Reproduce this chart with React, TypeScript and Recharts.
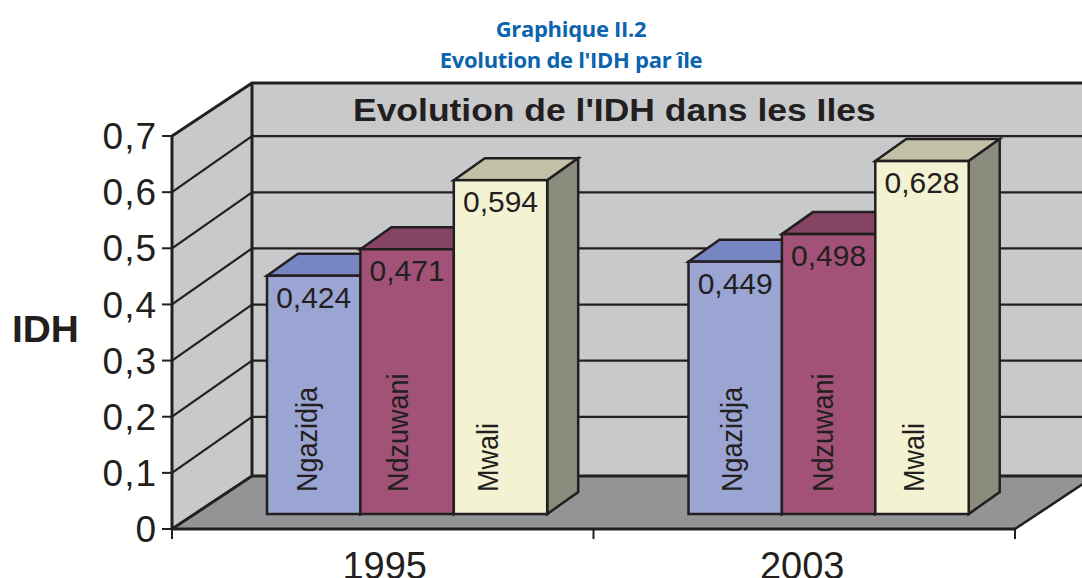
import { BarChart, Bar, XAxis, YAxis, ReferenceArea, ReferenceLine, LabelList } from "recharts";

const years = ["1995", "2003"];
const ngazidja = [0.424, 0.449];
const ndzuwani = [0.471, 0.498];
const mwali = [0.594, 0.628];
const yTicks = [0, 0.1, 0.2, 0.3, 0.4, 0.5, 0.6, 0.7];

const chartData = years.map((year, i) => ({
  year,
  Ngazidja: ngazidja[i],
  Ndzuwani: ndzuwani[i],
  Mwali: mwali[i],
}));

const INK = "#231f20";
const ARIAL = "'Liberation Sans', Arial, sans-serif";
const WALL = "#c8c9cb";
const FLOOR = "#939496";

// fake 3d: how far the back wall sits from the axes, and how far bars stand in
const WALL_DX = 80;
const WALL_DY = 53;
const BAR_SHIFT = 24;
const BAR_DX = 31;
const BAR_DY = 22;

function Walls({ x, y, width, height }: any) {
  const bottom = y + height;
  const right = x + width;
  const edges = years.map((_, i) => x + (width * i) / years.length).concat(right);
  return (
    <g>
      <polygon points={`${x},${y} ${x + WALL_DX},${y - WALL_DY} ${x + WALL_DX},${bottom - WALL_DY} ${x},${bottom}`} fill={WALL} stroke="none" />
      <rect x={x + WALL_DX} y={y - WALL_DY} width={width} height={height} fill={WALL} />
      <polygon
        points={`${x},${bottom} ${x + WALL_DX},${bottom - WALL_DY} ${right + WALL_DX},${bottom - WALL_DY} ${right},${bottom}`}
        fill={FLOOR}
      />
      <polyline
        points={`${x},${bottom} ${x},${y} ${x + WALL_DX},${y - WALL_DY} ${right + WALL_DX},${y - WALL_DY}`}
        fill="none"
        stroke={INK}
        strokeWidth={3}
      />
      <polyline
        points={`${x},${bottom} ${x + WALL_DX},${bottom - WALL_DY} ${x + WALL_DX},${y - WALL_DY}`}
        fill="none"
        stroke={INK}
        strokeWidth={3}
      />
      <line x1={x + WALL_DX} y1={bottom - WALL_DY} x2={right + WALL_DX} y2={bottom - WALL_DY} stroke={INK} strokeWidth={3} />
      <line x1={right} y1={bottom} x2={right + WALL_DX} y2={bottom - WALL_DY} stroke={INK} strokeWidth={2.5} />
      {edges.map((ex) => (
        <line key={ex} x1={ex} y1={bottom} x2={ex} y2={bottom + 10} stroke={INK} strokeWidth={2} />
      ))}
    </g>
  );
}

function WallLine({ x1, y1, x2 }: any) {
  return (
    <g stroke={INK} strokeWidth={2.2} fill="none">
      <line x1={x1} y1={y1} x2={x1 + WALL_DX} y2={y1 - 56} />
      <line x1={x1 + WALL_DX} y1={y1 - 56} x2={x2 + WALL_DX} y2={y1 - 56} />
    </g>
  );
}

function Box3D({ x, y, width, height, front, top, side }: any) {
  const left = x + BAR_SHIFT;
  const right = left + width;
  const bottom = y + height;
  return (
    <g stroke={INK} strokeWidth={2.5} strokeLinejoin="miter">
      <polygon points={`${left},${y} ${left + BAR_DX},${y - BAR_DY} ${right + BAR_DX},${y - BAR_DY} ${right},${y}`} fill={top} />
      <polygon points={`${right},${y} ${right + BAR_DX},${y - BAR_DY} ${right + BAR_DX},${bottom - BAR_DY} ${right},${bottom}`} fill={side} />
      <rect x={left} y={y} width={width} height={height} fill={front} />
    </g>
  );
}

function ValueLabel({ x, y, width, value }: any) {
  return (
    <text x={x + BAR_SHIFT + width / 2} y={y + 32} textAnchor="middle" fontFamily={ARIAL} fontSize={30} fill={INK}>
      {String(value).replace(".", ",")}
    </text>
  );
}

function seriesLabel(name: string, nudge: number) {
  return function SeriesLabel({ x, y, width, height, index }: any) {
    const px = x + BAR_SHIFT + width / 2 + nudge + (index === 0 ? -3 : 1);
    const py = y + height - 22;
    return (
      <text transform={`translate(${px},${py}) rotate(-90) scale(1,1.1)`} fontFamily={ARIAL} fontSize={27} fill={INK}>
        {name}
      </text>
    );
  };
}

function YearTick({ x, y, payload, index }: any) {
  return (
    <text x={x + (index === 0 ? 2 : -2)} y={y + 42} textAnchor="middle" fontFamily={ARIAL} fontSize={38} fill={INK}>
      {payload.value}
    </text>
  );
}

const series = [
  { key: "Ngazidja", front: "#9aa5d4", top: "#7586c2", side: "#6f7aa0", nudge: 6 },
  { key: "Ndzuwani", front: "#a25277", top: "#854464", side: "#753a56", nudge: 3.5 },
  { key: "Mwali", front: "#f3f2d2", top: "#c1c1a8", side: "#8a8d7d", nudge: 0.5 },
];

export default function App() {
  return (
    <div style={{ position: "absolute", left: 0, top: 0, width: 1082, height: 578, overflow: "hidden", background: "#fff" }}>
      <div style={{ position: "absolute", left: 0, width: 1142, top: 13, textAlign: "center", fontFamily: "'Open Sans', sans-serif", fontWeight: 700, fontSize: 22, lineHeight: "31px", color: "#0b64ae", letterSpacing: -0.3 }}>
        <div>Graphique II.2</div>
        <div>Evolution de l'IDH par île</div>
      </div>
      <BarChart
        width={1082}
        height={578}
        data={chartData}
        barSize={93.4}
        barGap={0}
        margin={{ top: 136, right: 67, bottom: 0, left: 112 }}
        style={{ position: "absolute", left: 0, top: 0 }}
      >
        <XAxis dataKey="year" height={49} axisLine={{ stroke: INK, strokeWidth: 3 }} tickLine={false} tick={<YearTick />} interval={0} />
        <YAxis
          yAxisId="main"
          width={60}
          domain={[0, 0.7]}
          allowDataOverflow
          ticks={yTicks}
          interval={0}
          axisLine={false}
          tickLine={{ stroke: INK, strokeWidth: 2 }}
          tickSize={10}
          tickMargin={5}
          tickFormatter={(v: number) => (v === 0 ? "0" : v.toFixed(1).replace(".", ","))}
          tick={{ fontFamily: ARIAL, fontSize: 37, fill: INK, letterSpacing: 1 }}
        />
        {/* bars stand a bit inside the floor, so they get their own hidden scale */}
        <YAxis yAxisId="bars" hide width={0} domain={[-0.02669, 0.6726]} allowDataOverflow />
        <ReferenceArea yAxisId="main" y1={0} y2={0.7} shape={<Walls />} zIndex={-20} ifOverflow="visible" />
        {yTicks.slice(1, -1).map((v) => (
          <ReferenceLine key={v} yAxisId="main" y={v} shape={<WallLine />} zIndex={-10} ifOverflow="visible" />
        ))}
        {series.map((s) => (
          <Bar
            key={s.key}
            yAxisId="bars"
            dataKey={s.key}
            isAnimationActive={false}
            shape={<Box3D front={s.front} top={s.top} side={s.side} />}
          >
            <LabelList dataKey={s.key} content={<ValueLabel />} />
            <LabelList dataKey={s.key} content={seriesLabel(s.key, s.nudge)} />
          </Bar>
        ))}
      </BarChart>
      <div style={{ position: "absolute", left: 353, top: 92, fontFamily: ARIAL, fontWeight: 700, fontSize: 32, lineHeight: "36px", color: INK, whiteSpace: "nowrap", transform: "scaleX(1.108)", transformOrigin: "left" }}>
        Evolution de l'IDH dans les Iles
      </div>
      <div style={{ position: "absolute", left: 12, top: 309, fontFamily: ARIAL, fontWeight: 700, fontSize: 37, lineHeight: "42px", color: INK, transform: "scaleX(1.05)", transformOrigin: "left" }}>
        IDH
      </div>
    </div>
  );
}
